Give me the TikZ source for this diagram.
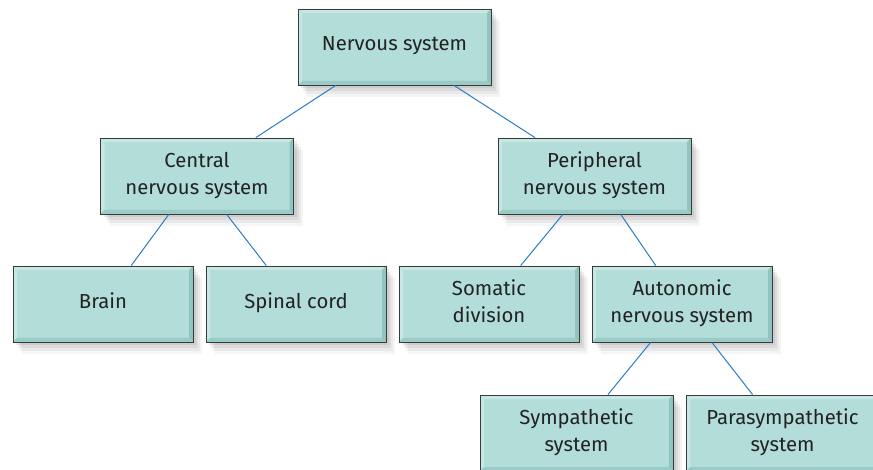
\documentclass[tikz,border=0pt]{standalone}
\usepackage{fontspec}
\setmainfont{Fira Sans}
\usepackage{xcolor}
\usepackage{tikz}
\usetikzlibrary{positioning,shadows}

\definecolor{boxfill}{HTML}{B2DDD9}
\definecolor{boxlight}{HTML}{C6E7E4}
\definecolor{boxdark}{HTML}{8FC4BF}
\definecolor{boxline}{HTML}{3A3A3A}
\definecolor{linkblue}{HTML}{2A7CC7}
\definecolor{txt}{HTML}{222222}

\begin{document}
\begin{tikzpicture}[
    x=1pt, y=1pt,
    node distance=52pt and 12.1pt,
    softshadow/.style={
        drop shadow={shadow xshift=9pt, shadow yshift=-12pt, opacity=0.04, fill=black},
        drop shadow={shadow xshift=7pt, shadow yshift=-9pt, opacity=0.05, fill=black},
        drop shadow={shadow xshift=5pt, shadow yshift=-6pt, opacity=0.06, fill=black},
        drop shadow={shadow xshift=3pt, shadow yshift=-3pt, opacity=0.07, fill=black}},
    box/.style={draw=boxline, line width=0.9pt, fill=boxfill, align=center,
        minimum width=180pt, minimum height=76pt, inner sep=0pt, text depth=6pt,
        text=txt, font=\fontsize{20.3}{27}\selectfont, softshadow,
        path picture={
            \fill[boxlight] (path picture bounding box.north west) -- (path picture bounding box.north east)
                -- ([xshift=-4pt,yshift=-4pt]path picture bounding box.north east)
                -- ([xshift=4pt,yshift=-4pt]path picture bounding box.north west) -- cycle;
            \fill[boxlight] (path picture bounding box.north west) -- (path picture bounding box.south west)
                -- ([xshift=4pt,yshift=4pt]path picture bounding box.south west)
                -- ([xshift=4pt,yshift=-4pt]path picture bounding box.north west) -- cycle;
            \fill[boxdark] (path picture bounding box.north east) -- (path picture bounding box.south east)
                -- ([xshift=-4pt,yshift=4pt]path picture bounding box.south east)
                -- ([xshift=-4pt,yshift=-4pt]path picture bounding box.north east) -- cycle;
            \fill[boxdark!70!boxfill] (path picture bounding box.south west) -- (path picture bounding box.south east)
                -- ([xshift=-4pt,yshift=4pt]path picture bounding box.south east)
                -- ([xshift=4pt,yshift=4pt]path picture bounding box.south west) -- cycle;
        }},
    wbox/.style={box, minimum width=193pt},
    link/.style={draw=linkblue, line width=1pt}
]
\useasboundingbox (0,0) rectangle (873,-470);
\clip (0,0) rectangle (873,-470);

\node[wbox] (nerv) at (394.5,-47) {Nervous system};

\node[wbox] (cns) at (197,-176) {Central\\nervous system};
\node[wbox] (pns) at (594.5,-176) {Peripheral\\nervous system};

\node[box] (brain) at (103,-304) {Brain};
\node[box, right=of brain] (spinal) {Spinal cord};
\node[box, right=of spinal] (somatic) {Somatic\\division};
\node[box, right=of somatic] (auto) {Autonomic\\nervous system};

\node[wbox] (symp) at (576.5,-433) {Sympathetic\\system};
\node[wbox, right=of symp] (para) {Parasympathetic\\system};

\draw[link] (nerv) -- (cns);
\draw[link] (nerv) -- (pns);
\draw[link] (cns) -- (brain);
\draw[link] (cns) -- (spinal);
\draw[link] (pns) -- (somatic);
\draw[link] (pns) -- (auto);
\draw[link] (auto) -- (symp);
\draw[link] (auto) -- (para);
\end{tikzpicture}
\end{document}
